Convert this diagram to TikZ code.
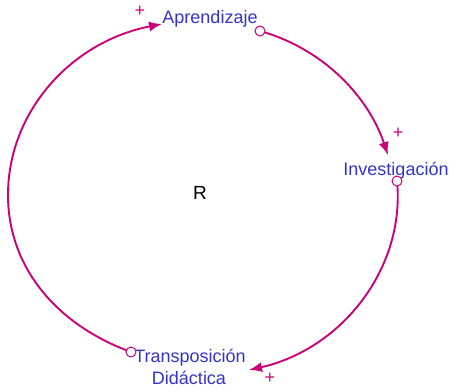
\documentclass[tikz,border=0pt]{standalone}
\usepackage{fontspec}
\setmainfont{Liberation Sans}
\usetikzlibrary{arrows.meta}
\definecolor{linkc}{RGB}{204,0,120}
\definecolor{varc}{RGB}{51,51,204}
\begin{document}
\begin{tikzpicture}[x=1pt,y=-1pt,
  varlabel/.style={text=varc,font=\fontsize{18}{21}\selectfont,inner sep=0pt,anchor=base},
  polarity/.style={text=linkc,font=\fontsize{18}{20}\selectfont,inner sep=0pt},
  link/.style={draw=linkc,line width=1.9pt,-{Latex[length=13pt,width=10pt]}},
  tail/.style={circle,draw=linkc,fill=white,line width=1pt,minimum size=10pt,inner sep=0pt}]
\useasboundingbox (0,0) rectangle (449,391);
% variables
\node[varlabel] (apr) at (210,23) {Aprendizaje};
\node[varlabel] (inv) at (396,175) {Investigación};
\node[varlabel] (tra) at (190,362) {Transposición};
\node[varlabel] (did) at (189,384.5) {Didáctica};
\node[inner sep=0pt,anchor=base,font=\fontsize{19}{22}\selectfont] (R) at (200,199.5) {R};
% link ends
\coordinate (t1) at (260,31);
\coordinate (h1) at (388,155);
\coordinate (t2) at (397,181);
\coordinate (h2) at (249,370);
\coordinate (t3) at (131,352);
\coordinate (m3) at (8,195);
\coordinate (h3) at (162,24);
% links
\draw[link] (t1) .. controls (323,48.6) and (368,96) .. (h1);
\draw[link] (t2) .. controls (405.4,268) and (342,349) .. (h2);
\draw[draw=linkc,line width=1.9pt] (t3) .. controls (57,325) and (8,267.6) .. (m3);
\draw[link] (m3) .. controls (8,111) and (72,41.5) .. (h3);
% tails
\node[tail] (c1) at (t1) {};
\node[tail] (c2) at (t2) {};
\node[tail] (c3) at (t3) {};
% polarities
\node[polarity] (p1) at (140,11) {+};
\node[polarity] (p2) at (398,133) {+};
\node[polarity] (p3) at (270,378) {+};
\end{tikzpicture}
\end{document}
